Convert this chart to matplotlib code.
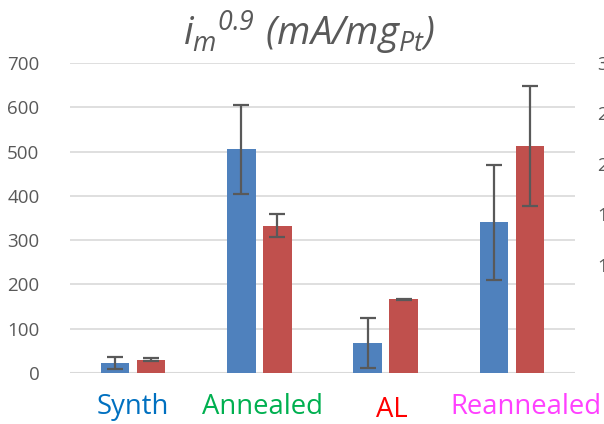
import numpy as np
import matplotlib.pyplot as plt

# -----------------------------
# Datos
# -----------------------------
categorias = ["Synth", "Annealed", "AL", "Reannealed"]
colores_cat = ["#0070C0", "#00B050", "#FF0000", "#FF40FF"]

serie1 = [23, 505, 68, 340]
err1 = [13, 100, 57, 130]
serie2 = [30, 333, 166, 512]
err2 = [3, 27, 2, 136]

# etiquetas del eje derecho (grafico vecino, recortado)
eje_der = ["300", "250", "200", "150", "100"]

plt.rcParams["font.family"] = ["Open Sans", "DejaVu Sans"]
plt.rcParams["mathtext.fontset"] = "custom"
plt.rcParams["mathtext.it"] = "Open Sans:italic"
plt.rcParams["mathtext.rm"] = "Open Sans:italic"

fig = plt.figure(figsize=(6.04, 4.24), dpi=100)
ax = fig.add_axes([70 / 604, 51 / 424, 505 / 604, 310 / 424])

x = np.arange(len(categorias))
w = 0.225
off = 0.143
ekw = dict(ecolor="#595959", elinewidth=1.6, capsize=6, capthick=1.6)

ax.bar(x - off, serie1, w, yerr=err1, color="#4F81BD", zorder=3, error_kw=ekw)
ax.bar(x + off, serie2, w, yerr=err2, color="#C0504D", zorder=3, error_kw=ekw)

ax.set_xlim(-0.5, 3.5)
ax.set_ylim(0, 700)
ax.set_yticks(np.arange(0, 701, 100))
ax.tick_params(axis="y", length=0, pad=22, labelsize=13.5, labelcolor="#595959")
ax.set_xticks([])
ax.yaxis.grid(True, color="#D9D9D9", linewidth=1.2, zorder=0)
for s in ax.spines.values():
    s.set_visible(False)
ax.axhline(0, color="#D9D9D9", linewidth=1.5, zorder=1)

# -----------------------------
# Etiquetas de categoria
# -----------------------------
pos_x = [133, 262, 392, 526]
pos_y = [407, 407, 410, 407]
for nom, col, px, py in zip(categorias, colores_cat, pos_x, pos_y):
    fig.text(px / 604, 1 - py / 424, nom, color=col, fontsize=19.8,
             ha="center", va="center")

# titulo
fig.text(309 / 604, 1 - 33 / 424, r"$i_m{}^{0.9}\ (mA/mg_{Pt})$",
         fontsize=27.5, color="#595959", ha="center", va="center")

# eje derecho recortado
for i, t in enumerate(eje_der):
    fig.text(597 / 604, 1 - (65 + 50.5 * i) / 424, t, fontsize=13.5,
             color="#595959", ha="left", va="center")

plt.savefig("out.png", dpi=100)
